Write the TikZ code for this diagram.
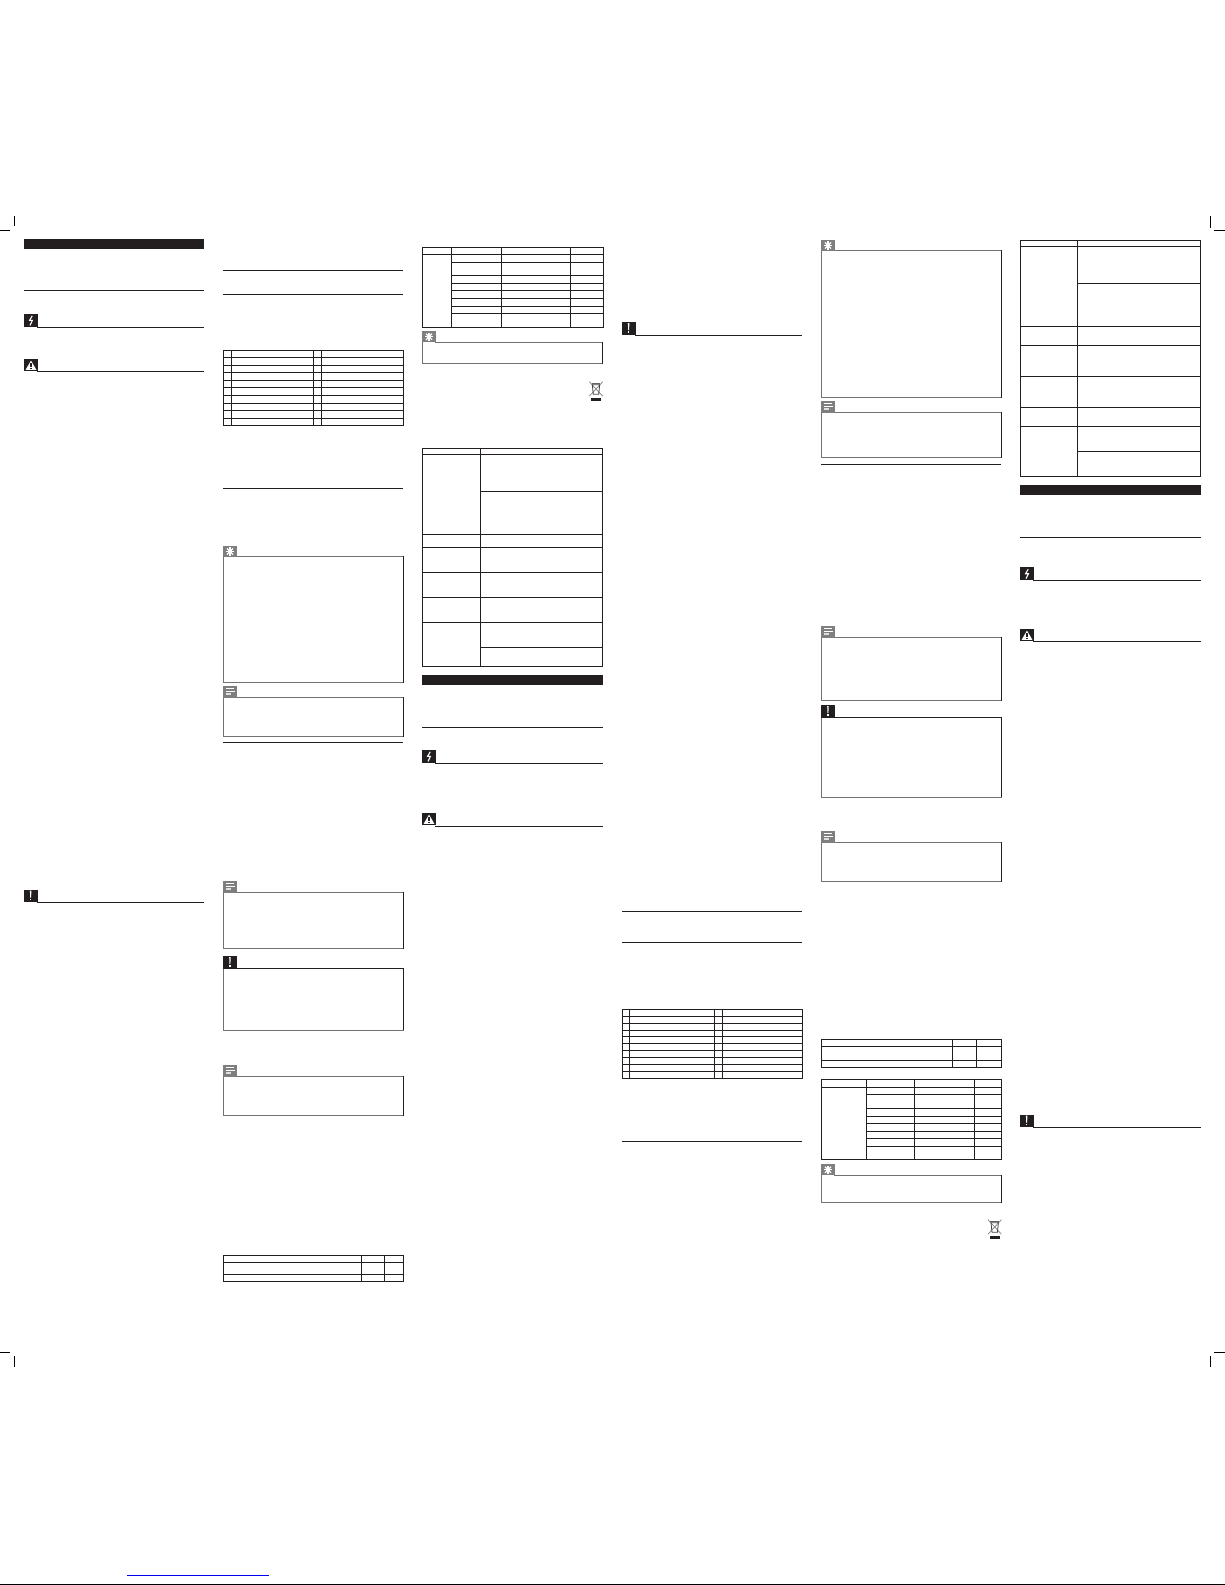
\documentclass[tikz,border=0pt]{standalone}
\definecolor{ink}{HTML}{231F20}
\definecolor{tone}{HTML}{7F7F7F}
\definecolor{linkblue}{HTML}{0000EE}
\tikzset{
  rulepen/.style={line width=1pt,draw=ink,line cap=butt},
  gridpen/.style={line width=1pt,draw=ink,line cap=rect},
  graypen/.style={line width=1pt,draw=tone!90!black,line cap=rect},
  cutmark/.style={line width=.9pt,draw=black},
}
% icon shapes, local origin = icon top-left
\newcommand{\iconBolt}[2]{\begin{scope}[shift={(#1,#2)}]
  \fill[ink] (0,0) rectangle (14,13);
  \draw[white,line width=1.1pt,line join=miter] (8.2,1.8) -- (5.6,6.4) -- (8.4,6.4) -- (6,11.4);
\end{scope}}
\newcommand{\iconWarn}[2]{\begin{scope}[shift={(#1,#2)}]
  \fill[ink] (0,0) rectangle (14,12.3);
  \fill[white] (7,1.6) -- (12.4,10.8) -- (1.6,10.8) -- cycle;
  \fill[ink] (6.3,4.4) rectangle (7.7,8);
  \fill[ink] (6.3,8.8) rectangle (7.7,10);
\end{scope}}
\newcommand{\iconBang}[2]{\begin{scope}[shift={(#1,#2)}]
  \fill[ink] (0,0) rectangle (13.5,12.5);
  \fill[white] (5.9,1) -- (7.4,1) -- (7.1,8) -- (6.2,8) -- cycle;
  \fill[white] (6,9) rectangle (7.3,10.8);
\end{scope}}
\newcommand{\iconStar}[2]{\begin{scope}[shift={(#1,#2)}]
  \fill[tone] (0,0) rectangle (13.5,11);
  \foreach \a in {0,45,90,135}
    \draw[white,line width=1.3pt] (6.7,5.5) +(\a:4.3) -- +(\a+180:4.3);
  \fill[white] (6.7,5.5) circle (2.2);
\end{scope}}
\newcommand{\iconNote}[2]{\begin{scope}[shift={(#1,#2)}]
  \fill[tone] (0,0) rectangle (13.5,11.5);
  \fill[white] (2.7,2.1) rectangle (10.7,3.3);
  \fill[white] (2.7,4.8) rectangle (11.7,5.8);
  \fill[white!75!tone] (2.7,7.2) rectangle (7.3,8.8);
\end{scope}}
\newcommand{\iconBin}[2]{\begin{scope}[shift={(#1,#2)}]
  \draw[line width=.7pt,draw=tone] (0,0) -- (13.4,14.5) (13.4,0) -- (0,14.5);
  \draw[line width=.8pt,draw=ink!85] (3,3) -- (10.4,3) -- (9.4,12.6) -- (4,12.6) -- cycle;
  \draw[line width=.6pt,draw=ink!70] (2.4,1.6) -- (11,1.6);
  \fill[ink] (1.7,16.3) rectangle (11.7,19.3);
\end{scope}}
% framed notes: #1 left, #2 right, #3 top edge, #4 bottom edge, #5 icon right
\newcommand{\softFrame}[5]{
  \draw[graypen] (#5,#3) -- (#2,#3);
  \draw[graypen] (#1,#3) -- (#1,#4) -- (#2,#4);
  \draw[gridpen] (#2,#3) -- (#2,#4);
}
\newcommand{\hardFrame}[5]{
  \draw[gridpen] (#5,#3) -- (#2,#3) -- (#2,#4);
  \draw[graypen] (#1,#3) -- (#1,#4) -- (#2,#4);
}
\begin{document}
\begin{tikzpicture}[x=1pt,y=-1pt]
\useasboundingbox (0,0) rectangle (1225,1585);
\fill[white] (0,0) rectangle (1225,1585);

% crop marks
\draw[cutmark] (0,230.3) -- (10,230.3) (14.3,216) -- (14.3,226);
\draw[cutmark] (1214,230.3) -- (1225,230.3) (1210,216) -- (1210,228);
\draw[cutmark] (0,1352) -- (10,1352) (14.3,1356) -- (14.3,1367);
\draw[cutmark] (1214,1352) -- (1225,1352) (1210,1356) -- (1210,1367);

% foot
\draw[line width=1pt,draw=linkblue] (127,1575.3) -- (268.7,1575.3);
\draw[line width=1pt,draw=black] (0,1584.3) -- (1225,1584.3);

% ---------- column 1
\fill[ink] (24,239) rectangle (204,249);
\draw[rulepen] (24,290.3) -- (204,290.3);
\iconBolt{24}{314}
\draw[rulepen] (37,327.5) -- (204,327.5);
\iconWarn{24}{359}
\draw[rulepen] (37,371.7) -- (204,371.7);
\iconBang{24}{889.5}
\draw[rulepen] (37,902.5) -- (204,902.5);

% ---------- column 2
\foreach \y in {270.3,294.3,488.3,742} \draw[rulepen] (223,\y) -- (403,\y);
\foreach \y in {350.3,357.3,365.3,372.3,380.3,387.7,395.3,403.3,410.7,418.7,425.7}
  \draw[gridpen] (223,\y) -- (403.5,\y);
\foreach \x in {223,231.4,313.7,321.7,403.5} \draw[gridpen] (\x,350.3) -- (\x,425.7);

\softFrame{223.3}{403.3}{556.3}{682.3}{236}
\iconStar{223.3}{546}
\softFrame{223.3}{403.3}{697.7}{736.3}{236}
\iconNote{223.3}{686}
\softFrame{223.3}{403.3}{892.3}{948.3}{236}
\iconNote{223.3}{881}
\hardFrame{223.3}{403.3}{968.3}{1030.3}{236}
\iconBang{223.3}{956}
\softFrame{223.3}{403.3}{1076.3}{1115.3}{236}
\iconNote{223.3}{1065}

\foreach \y in {1255.3,1262.3,1274.3,1281.3} \draw[gridpen] (223.3,\y) -- (403.3,\y);
\foreach \x in {223.3,361.3,384.3,403.3} \draw[gridpen] (\x,1255.3) -- (\x,1281.3);

% ---------- column 3
\draw[gridpen] (422.3,247.3) -- (603.3,247.3);
\foreach \y in {254.3,262.3,275.3,283.3,290.3,298.3,306.3,313.3} \draw[gridpen] (451.3,\y) -- (603.3,\y);
\draw[gridpen] (422.3,254.3) -- (451.3,254.3);
\draw[gridpen] (422.3,327.3) -- (603.3,327.3);
\foreach \x in {422.3,451.3,501.3,570.3,603.3} \draw[gridpen] (\x,247.3) -- (\x,327.3);

\softFrame{422.3}{602.7}{342.3}{363.3}{435}
\iconStar{422.3}{331.3}
\iconBin{589.3}{381.7}

\foreach \y in {448.3,454.7,534.3,547.3,572.3,597.3,622.3,666.3} \draw[gridpen] (422.3,\y) -- (602.7,\y);
\foreach \y in {491.3,647.3} \draw[gridpen] (480.3,\y) -- (602.7,\y);
\foreach \x in {422.3,480.3,602.7} \draw[gridpen] (\x,448.3) -- (\x,666.3);

\fill[ink] (422,675) rectangle (603,685);
\draw[rulepen] (422,727.3) -- (603,727.3);
\iconBolt{422}{750}
\draw[rulepen] (435,763.5) -- (603,763.5);
\iconWarn{422}{813}
\draw[rulepen] (435,826.3) -- (603,826.3);

% ---------- column 4
\iconBang{622}{322}
\draw[rulepen] (635,335.5) -- (802,335.5);
\foreach \y in {911.3,942.3,1141.3} \draw[rulepen] (622.3,\y) -- (802,\y);
\foreach \y in {1009.3,1016.3,1023.3,1030.3,1036.3,1043.3,1050.3,1057.3,1064.3,1071.3,1078.3}
  \draw[gridpen] (622.3,\y) -- (802.7,\y);
\foreach \x in {622.3,629.3,714.3,722.3,802.7} \draw[gridpen] (\x,1009.3) -- (\x,1078.3);

% ---------- column 5
\softFrame{821.3}{1001.3}{250.3}{397}{834}
\iconStar{821.3}{240}
\softFrame{821.3}{1001.3}{412.3}{457}{834}
\iconNote{821.3}{401}
\draw[rulepen] (821,464.3) -- (1001,464.3);
\softFrame{821.3}{1001.3}{637.3}{700}{834}
\iconNote{821.3}{626}
\hardFrame{821.3}{1001.3}{717.3}{797}{834}
\iconBang{821.3}{705}
\softFrame{821.3}{1001.3}{842.3}{881.3}{834}
\iconNote{821.3}{831}

\foreach \y in {1039.3,1046.3,1060.3,1067.3} \draw[gridpen] (821.3,\y) -- (1001.7,\y);
\foreach \x in {821.3,952.7,976.7,1001.7} \draw[gridpen] (\x,1039.3) -- (\x,1067.3);

\draw[gridpen] (821.3,1079.7) -- (1001.7,1079.7);
\foreach \y in {1087.3,1094.3,1108.3,1116.3,1123.3,1131.3,1138.3,1146.3} \draw[gridpen] (866.3,\y) -- (1001.7,\y);
\draw[gridpen] (821.3,1087.3) -- (866.3,1087.3);
\draw[gridpen] (821.3,1159.3) -- (1001.7,1159.3);
\foreach \x in {821.3,866.3,914.3,974.3,1001.7} \draw[gridpen] (\x,1079.7) -- (\x,1159.3);

\softFrame{821.3}{1001.3}{1175.3}{1202.3}{834}
\iconStar{821.3}{1164.3}
\iconBin{988}{1219.7}

% ---------- column 6
\foreach \y in {240.3,246.3,326.3,345.3,376.3,407.3,426.3,476.3} \draw[gridpen] (1020.3,\y) -- (1200.3,\y);
\foreach \y in {283.3,451.3} \draw[gridpen] (1077.3,\y) -- (1200.3,\y);
\foreach \x in {1020.3,1077.3,1200.3} \draw[gridpen] (\x,240.3) -- (\x,476.3);

\fill[ink] (1020,485) rectangle (1201,495);
\draw[rulepen] (1020,537.3) -- (1201,537.3);
\iconBolt{1020}{567.3}
\draw[rulepen] (1033,580.5) -- (1201,580.5);
\iconWarn{1020}{629}
\draw[rulepen] (1033,641.7) -- (1201,641.7);
\iconBang{1020}{1114.5}
\draw[rulepen] (1033,1127.5) -- (1201,1127.5);
\end{tikzpicture}
\end{document}
